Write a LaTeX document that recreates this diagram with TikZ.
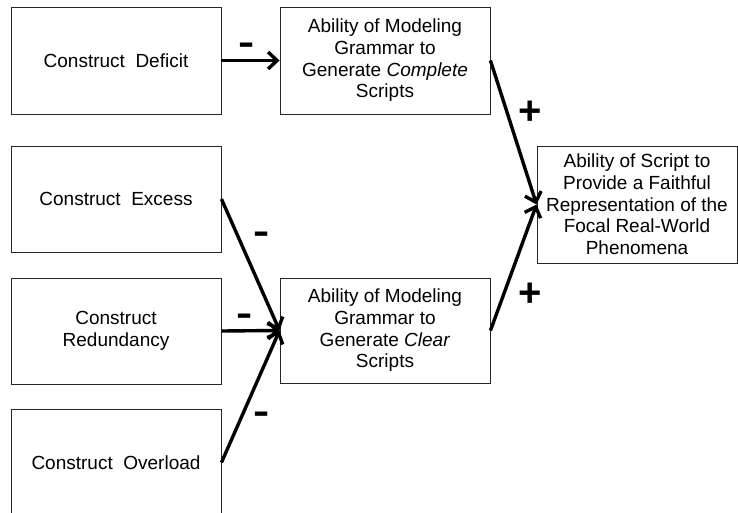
\documentclass[tikz,border=0pt]{standalone}
\usepackage{fontspec}
\setmainfont{Liberation Sans}
\usetikzlibrary{arrows.meta}
\begin{document}
\begin{tikzpicture}[x=1pt,y=-1pt,
  box/.style={draw=black!85, line width=0.9pt, inner sep=0pt, align=center,
    minimum width=210pt, minimum height=107pt,
    font=\fontsize{19}{21.7}\selectfont},
  link/.style={line width=3.4pt, -{Straight Barb[length=9pt,width=17pt]}},
  minus/.style={inner sep=0pt, xscale=1.35, font=\fontsize{36}{36}\selectfont\bfseries},
  plus/.style={inner sep=0pt, font=\fontsize{40}{40}\selectfont\bfseries}]
\path[use as bounding box, clip] (0,0) rectangle (738,513);

% source constructs
\node[box] (deficit)    at (116,60.5)  {Construct\ \ Deficit};
\node[box, minimum height=106pt] (excess) at (116,199) {Construct\ \ Excess};
\node[box, minimum height=106pt] (redund) at (116,331) {Construct\\Redundancy};
\node[box] (overload)   at (116,462.5) {Construct\ \ Overload};

% grammar abilities
\node[box] (complete) at (385,60.5) {Ability of Modeling\\Grammar to\\Generate \textit{Complete}\\Scripts};
\node[box, minimum height=105pt] (clear) at (385,330.5) {Ability of Modeling\\Grammar to\\Generate \textit{Clear}\\Scripts};

% outcome
\node[box, minimum width=200pt, minimum height=117pt] (faith) at (637,204.5)
  {Ability of Script to\\Provide a Faithful\\Representation of the\\Focal Real-World\\Phenomena};

% connectors
\draw[link] (deficit.east)  -- (complete.west);
\draw[link] (excess.east)   -- (clear.west);
\draw[link] (redund.east)   -- (clear.west);
\draw[link] (overload.east) -- (clear.west);
\draw[link] (complete.east) -- (faith.west);
\draw[link] (clear.east)    -- (faith.west);

% effect signs
\node[minus] (s1) at (247,49)  {-};
\node[minus] (s2) at (262,238) {-};
\node[minus] (s3) at (245,320) {-};
\node[minus] (s4) at (262,418) {-};
\node[plus] (p1) at (530,113) {+};
\node[plus] (p2) at (530,295) {+};
\end{tikzpicture}
\end{document}
